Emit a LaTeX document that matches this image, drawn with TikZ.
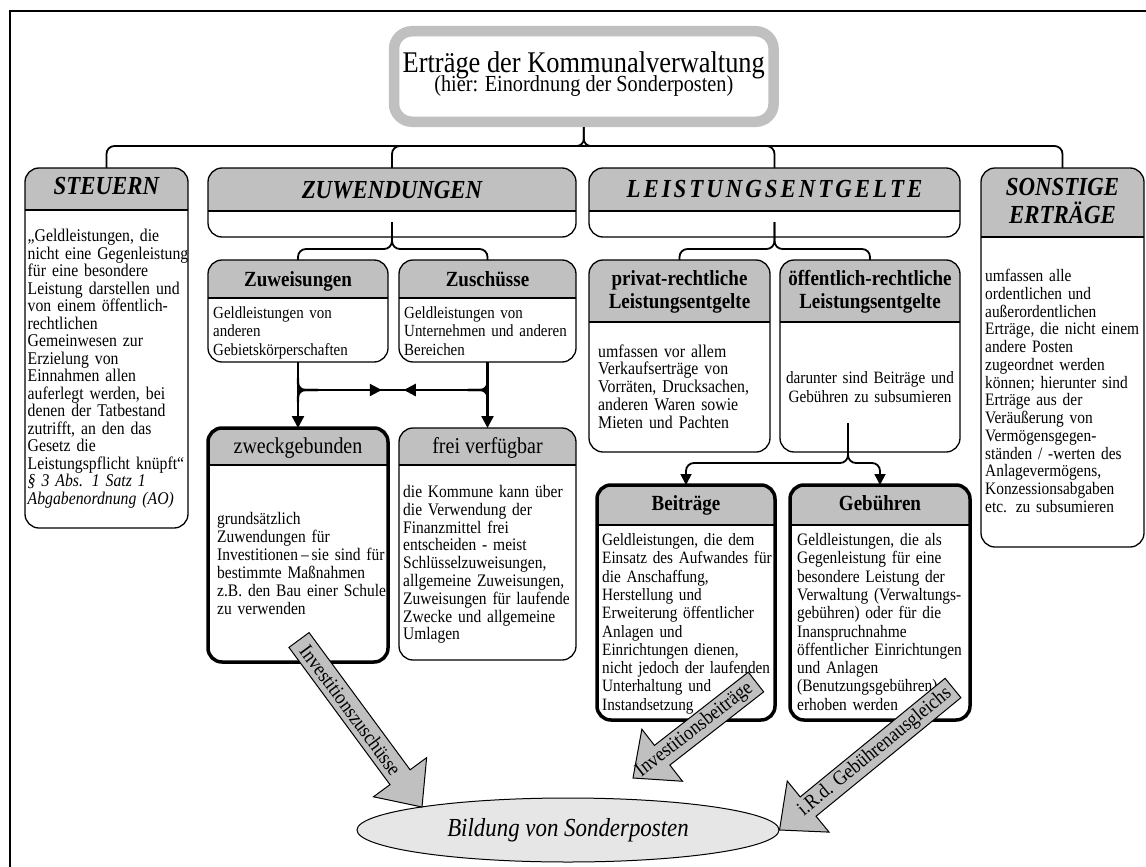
\documentclass[tikz,border=0pt]{standalone}
\usepackage{fontspec}
\setmainfont{Liberation Serif}[FakeStretch=0.88]
\usetikzlibrary{calc,arrows.meta,shapes.geometric}
\definecolor{hdr}{HTML}{C0C0C0}
\definecolor{ellfill}{HTML}{E6E6E6}
\newcommand\setfs[2]{\fontsize{#1pt}{#2pt}\selectfont}
\newcommand\spc{\kern3pt}
\newcommand\blkarrow[5]{%
  \coordinate (#3h) at ($(#2)!37pt!(#1)$);
  \filldraw[fill=hdr, draw=black, line width=1pt, line join=miter]
    ($(#1)!12.5pt!90:(#2)$) -- ($(#3h)!12.5pt!-90:(#1)$) -- ($(#3h)!33pt!-90:(#1)$) -- (#2)
    -- ($(#3h)!33pt!90:(#1)$) -- ($(#3h)!12.5pt!90:(#1)$) -- ($(#1)!12.5pt!-90:(#2)$) -- cycle;
  \path (#1) -- (#2) node[pos=#4, sloped, inner sep=0pt, font=\setfs{20.5}{22}] (#3) {#5};
}
\tikzset{
  panel/.style={draw=black, line width=1.3pt, rounded corners=14pt, fill=white, inner sep=0pt, outer sep=0pt,
    path picture={
      \fill[hdr, sharp corners] (path picture bounding box.north west) rectangle ([yshift=-#1]path picture bounding box.north east);
      \draw[line width=1.3pt, sharp corners] ([yshift=-#1]path picture bounding box.north west) -- ([yshift=-#1]path picture bounding box.north east);
    }},
  heavy/.style={line width=3.5pt},
  hdrtxt/.style={anchor=base, inner sep=0pt, font=\bfseries\itshape\setfs{26}{28}},
  subhdr/.style={anchor=base, inner sep=0pt, font=\bfseries\setfs{21.6}{23}},
  plainhdr/.style={anchor=base, inner sep=0pt, font=\setfs{22.7}{24}},
  body/.style={anchor=base west, inner sep=0pt, align=left, text width=#1},
  conn/.style={line width=1.8pt, rounded corners=8pt},
  thickln/.style={line width=2.3pt},
  thickarr/.style={line width=2.3pt, -{Triangle[length=12pt,width=12pt]}},
}
\begin{document}
\begin{tikzpicture}[x=1pt,y=-1pt]
\useasboundingbox (0,0) rectangle (1146,867);
\fill[white] (0,0) rectangle (1146,867);
\draw[line width=2.6pt] (10,867) -- (10,11) -- (1146,11);

% title
\node[draw=hdr, line width=10.5pt, rounded corners=18pt, fill=white, minimum width=379.6pt, minimum height=90.5pt, inner sep=0pt] (title) at (583.8,76.5) {};
\node[anchor=base, inner sep=0pt, font=\setfs{30}{32}] (titleA) at (583.8,72.7) {Erträge der Kommunalverwaltung};
\node[anchor=base, inner sep=0pt, font=\setfs{23}{25}] (titleB) at (583.8,92) {(hier: Einordnung der Sonderposten)};

% panels
\node[panel=42pt, minimum width=163pt, minimum height=360pt] (steuern) at (106.5,348) {};
\node[panel=43pt, minimum width=368pt, minimum height=69pt] (zuwend) at (392,202.5) {};
\node[panel=43pt, minimum width=371pt, minimum height=69pt] (leist) at (774.5,202.5) {};
\node[panel=69pt, minimum width=163pt, minimum height=379pt] (sonst) at (1062.5,357.5) {};
\node[panel=38pt, minimum width=180pt, minimum height=102pt] (zuweis) at (298,311) {};
\node[panel=38pt, minimum width=177pt, minimum height=102pt] (zusch) at (487.5,311) {};
\node[panel=37pt, heavy, minimum width=180pt, minimum height=234pt] (zweck) at (298,545) {};
\node[panel=37pt, minimum width=177pt, minimum height=232pt] (frei) at (487.5,544) {};
\node[panel=62pt, minimum width=181pt, minimum height=192pt] (privat) at (679.5,356) {};
\node[panel=62pt, minimum width=180pt, minimum height=192pt] (oeff) at (870,356) {};
\node[panel=40pt, heavy, minimum width=178pt, minimum height=235pt] (beitr) at (686,602.5) {};
\node[panel=40pt, heavy, minimum width=180pt, minimum height=235pt] (gebuehr) at (880,602.5) {};

% headers
\node[hdrtxt] (steuernH) at (106.5,194) {STEUERN};
\node[hdrtxt] (zuwendH) at (392,198) {ZUWENDUNGEN};
\node[hdrtxt] (leistH) at (774.5,197) {L\spc E\spc I\spc S\spc T\spc U\spc N\spc G\spc S\spc E\spc N\spc T\spc G\spc E\spc L\spc T\spc E};
\node[hdrtxt] (sonstH1) at (1062.5,195) {SONSTIGE};
\node[hdrtxt] (sonstH2) at (1062.5,223) {ERTRÄGE};
\node[subhdr] (zuweisH) at (298,286) {Zuweisungen};
\node[subhdr] (zuschH) at (487.5,286) {Zuschüsse};
\node[plainhdr] (zweckH) at (298,453) {zweckgebunden};
\node[plainhdr] (freiH) at (487.5,453) {frei verfügbar};
\node[subhdr] (privatH1) at (679.5,285) {privat-rechtliche};
\node[subhdr] (privatH2) at (679.5,308) {Leistungsentgelte};
\node[subhdr] (oeffH1) at (870,285) {öffentlich-rechtliche};
\node[subhdr] (oeffH2) at (870,308) {Leistungsentgelte};
\node[subhdr] (beitrH) at (686,510) {Beiträge};
\node[subhdr] (gebuehrH) at (880,510) {Gebühren};

% bodies
\node[body=170pt, font=\setfs{17.9}{17.5}] (steuernT) at (27.5,241.5) {„Geldleistungen, die\\nicht eine Gegenleistung\\für eine besondere\\Leistung darstellen und\\von einem öffentlich-\\rechtlichen\\Gemeinwesen zur\\Erzielung von\\Einnahmen allen\\auferlegt werden, bei\\denen der Tatbestand\\zutrifft, an den das\\Gesetz die\\Leistungspflicht knüpft“\\\textit{§ 3 Abs. 1 Satz 1}\\\textit{Abgabenordnung (AO)}};
\node[body=170pt, font=\setfs{17.5}{17.75}] (sonstT) at (985,281.5) {umfassen alle\\ordentlichen und\\außerordentlichen\\Erträge, die nicht einem\\andere Posten\\zugeordnet werden\\können; hierunter sind\\Erträge aus der\\Veräußerung von\\Vermögensgegen-\\ständen / -werten des\\Anlagevermögens,\\Konzessionsabgaben\\etc. zu subsumieren};
\node[body=175pt, font=\setfs{17}{18.5}] (zuweisT) at (213,318) {Geldleistungen von\\anderen\\Gebietskörperschaften};
\node[body=175pt, font=\setfs{17}{18.5}] (zuschT) at (404,318) {Geldleistungen von\\Unternehmen und anderen\\Bereichen};
\node[body=175pt, font=\setfs{17.6}{18}] (zweckT) at (217,524.5) {grundsätzlich\\Zuwendungen für\\Investitionen\,–\,sie sind für\\bestimmte Maßnahmen\\z.B. den Bau einer Schule\\zu verwenden};
\node[body=175pt, font=\setfs{17.6}{17.8}] (freiT) at (403,497.5) {die Kommune kann über\\die Verwendung der\\Finanzmittel frei\\entscheiden - meist\\Schlüsselzuweisungen,\\allgemeine Zuweisungen,\\Zuweisungen für laufende\\Zwecke und allgemeine\\Umlagen};
\node[body=175pt, font=\setfs{18}{17.8}] (privatT) at (598,357) {umfassen vor allem\\Verkaufserträge von\\Vorräten, Drucksachen,\\anderen Waren sowie\\Mieten und Pachten};
\node[anchor=base, inner sep=0pt, align=center, text width=178pt, font=\setfs{17.3}{19}] (oeffT) at (870,383) {darunter sind Beiträge und\\Gebühren zu subsumieren};
\node[body=178pt, font=\setfs{17.3}{18.3}] (beitrT) at (602,545.5) {Geldleistungen, die dem\\Einsatz des Aufwandes für\\die Anschaffung,\\Herstellung und\\Erweiterung öffentlicher\\Anlagen und\\Einrichtungen dienen,\\nicht jedoch der laufenden\\Unterhaltung und\\Instandsetzung};
\node[body=178pt, font=\setfs{17.5}{18.3}] (gebuehrT) at (797,545.5) {Geldleistungen, die als\\Gegenleistung für eine\\besondere Leistung der\\Verwaltung (Verwaltungs-\\gebühren) oder für die\\Inanspruchnahme\\öffentlicher Einrichtungen\\und Anlagen\\(Benutzungsgebühren)\\erhoben werden};

% main bracket
\draw[conn] (steuern.north) -- (steuern.north |- 0,146) -- (sonst.north |- 0,146) -- (sonst.north);
\draw[conn] (zuwend.north) -- (zuwend.north |- 0,146) -- (leist.north |- 0,146) -- (leist.north);
\coordinate (tb) at (title.south |- 0,146);
\draw[conn, rounded corners=7pt] (title.south) -- (tb) -- ++(-40,0);
\draw[conn, rounded corners=7pt] (title.south) -- (tb) -- ++(40,0);

% sub brackets
\coordinate (zs) at ([yshift=15pt]zuwend.south);
\coordinate (zb) at (zs |- 0,249);
\draw[conn] (zs) -- (zb) -- (zuweis.north |- 0,249) -- (zuweis.north);
\draw[conn] (zs) -- (zb) -- (zusch.north |- 0,249) -- (zusch.north);
\coordinate (ls) at ([yshift=15pt]leist.south);
\coordinate (lb) at (ls |- 0,249);
\draw[conn] (ls) -- (lb) -- (privat.north |- 0,249) -- (privat.north);
\draw[conn] (ls) -- (lb) -- (oeff.north |- 0,249) -- (oeff.north);

% zuwendungen arrows
\draw[thickarr] (zuweis.south) -- (zweck.north);
\draw[thickarr] (zusch.south) -- (frei.north);
\coordinate (j1) at (zuweis.south |- 0,390);
\coordinate (j2) at (zusch.south |- 0,390);
\coordinate (jm) at ($(j1)!0.5!(j2)$);
\draw[thickln] (j1) -- (j2);
\draw[thickarr] (j1) -- ([xshift=-11pt]jm);
\draw[thickarr] (j2) -- ([xshift=11pt]jm);
\draw[thickln, rounded corners=7pt] ([yshift=12pt]j1) -- (j1) -- ([xshift=20pt]j1);
\draw[thickln, rounded corners=7pt] ([yshift=-12pt]j1) -- (j1) -- ([xshift=20pt]j1);
\draw[thickln, rounded corners=7pt] ([yshift=12pt]j2) -- (j2) -- ([xshift=-20pt]j2);
\draw[thickln, rounded corners=7pt] ([yshift=-12pt]j2) -- (j2) -- ([xshift=-20pt]j2);

% oeffentlich branch
\coordinate (os) at ([shift={(-22pt,29pt)}]oeff.south);
\coordinate (ob) at (os |- 0,463);
\draw[conn, -{Triangle[length=11pt,width=11pt]}] (os) -- (ob) -- (beitr.north |- 0,463) -- (beitr.north);
\draw[conn, -{Triangle[length=11pt,width=11pt]}] (os) -- (ob) -- (gebuehr.north |- 0,463) -- (gebuehr.north);

% ellipse
\node[ellipse, draw=black, line width=1pt, fill=ellfill, minimum width=422pt, minimum height=64pt, inner sep=0pt, font=\itshape\setfs{26}{28}] (sonder) at (568,830) {Bildung von Sonderposten};

% block arrows
\coordinate (a1s) at (299,640);
\coordinate (a1e) at (422,807);
\blkarrow{a1s}{a1e}{a1}{0.42}{Investitionszuschüsse}
\coordinate (a2s) at (756,682);
\coordinate (a2e) at (633,778);
\blkarrow{a2s}{a2e}{a2}{0.5}{Investitionsbeiträge}
\coordinate (a3s) at (953,688);
\blkarrow{a3s}{sonder.east}{a3}{0.45}{i.R.d. Gebührenausgleichs}
\end{tikzpicture}
\end{document}
